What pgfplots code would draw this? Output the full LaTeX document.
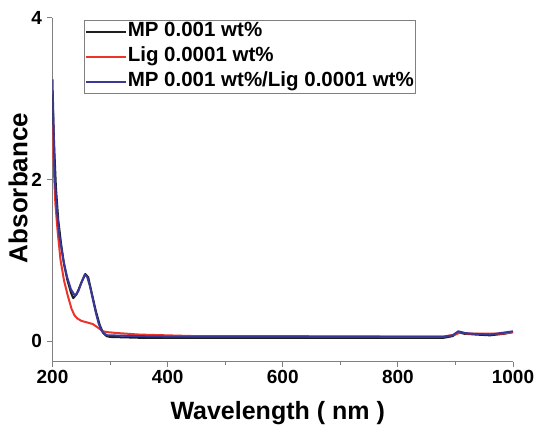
\documentclass[border=0pt]{standalone}
\usepackage{pgfplots}
\pgfplotsset{compat=1.18}
\usepackage{fontspec}
\setmainfont{Liberation Sans}

\definecolor{mpblack}{RGB}{30,30,30}
\definecolor{ligred}{RGB}{236,52,42}
\definecolor{mixblue}{RGB}{58,56,150}
\definecolor{axgray}{RGB}{128,128,128}

\begin{document}
\begin{tikzpicture}
\useasboundingbox (0,0) rectangle (539pt,426pt);
\clip (0,0) rectangle (539pt,426pt);
\begin{axis}[
  at={(52.5pt,64pt)}, anchor=south west,
  scale only axis, width=460.5pt, height=344pt,
  xmin=200, xmax=1000, ymin=-0.26, ymax=4,
  axis x line*=bottom, axis y line*=left,
  axis line style={axgray, line width=1pt},
  xtick={200,400,...,1000}, ytick={0,2,4},
  minor x tick num=1,
  tick align=outside,
  major tick length=5pt, minor tick length=3pt,
  tick style={axgray, line width=1pt},
  /pgf/number format/assume math mode=true,
  /pgf/number format/set thousands separator={},
  ticklabel style={font=\bfseries\fontsize{19}{19}\selectfont, text=black},
  yticklabel style={xshift=-2pt},
  xlabel={Wavelength ( nm )},
  xlabel style={at={(axis description cs:0.489,-0.168)}, anchor=base,
    font=\bfseries\fontsize{25}{25}\selectfont},
  ylabel={Absorbance},
  ylabel style={at={(axis description cs:-0.075,0.506)}, anchor=center,
    font=\bfseries\fontsize{26}{26}\selectfont},
  legend style={at={(rel axis cs:0.068,0.994)}, anchor=north west,
    draw=axgray, line width=1pt, inner xsep=1pt, inner ysep=1pt,
    font=\bfseries\fontsize{20.5}{20.5}\selectfont,
    nodes={inner sep=0.5pt, text height=14.5pt, text depth=5pt},
    row sep=4.5pt},
  legend cell align=left,
  legend image code/.code={\draw[#1, line width=2pt] (0pt,0pt) -- (40pt,0pt);},
  every axis plot/.append style={line width=2pt, line join=round},
]
% MP 0.001 wt%
\addplot[mpblack] coordinates {
(200,3.05) (203,2.4) (206,1.9) (210,1.5) (215,1.2) (220,0.95) (226,0.75)
(232,0.6) (236,0.53) (242,0.58) (250,0.72) (257,0.83) (262,0.79) (268,0.6)
(275,0.38) (282,0.2) (288,0.1) (294,0.06) (300,0.05) (350,0.04) (600,0.04)
(880,0.04) (895,0.06) (905,0.11) (915,0.09) (935,0.08) (960,0.07) (985,0.09)
(1000,0.11)};
\addlegendentry{MP 0.001 wt\%}
% Lig 0.0001 wt%
\addplot[ligred] coordinates {
(200,2.68) (202,2.2) (205,1.7) (209,1.35) (214,1.0) (220,0.75) (227,0.55)
(233,0.4) (238,0.32) (243,0.28) (250,0.25) (260,0.23) (270,0.21) (280,0.16)
(288,0.12) (295,0.11) (310,0.1) (350,0.08) (400,0.07) (450,0.06) (600,0.06)
(800,0.055) (880,0.055) (900,0.08) (910,0.11) (920,0.09) (950,0.09) (980,0.09)
(1000,0.11)};
\addlegendentry{Lig 0.0001 wt\%}
% MP 0.001 wt%/Lig 0.0001 wt%
\addplot[mixblue] coordinates {
(200,3.24) (202,2.6) (204,2.0) (208,1.6) (212,1.3) (219,1.0) (225,0.8)
(232,0.64) (239,0.56) (245,0.62) (250,0.72) (256,0.82) (260,0.8) (265,0.68)
(270,0.52) (275,0.36) (280,0.22) (285,0.13) (290,0.09) (295,0.07) (300,0.07)
(350,0.06) (400,0.055) (600,0.055) (880,0.055) (895,0.07) (905,0.12) (915,0.1)
(930,0.09) (960,0.08) (980,0.1) (1000,0.12)};
\addlegendentry{MP 0.001 wt\%/Lig 0.0001 wt\%}
\end{axis}
\end{tikzpicture}
\end{document}
